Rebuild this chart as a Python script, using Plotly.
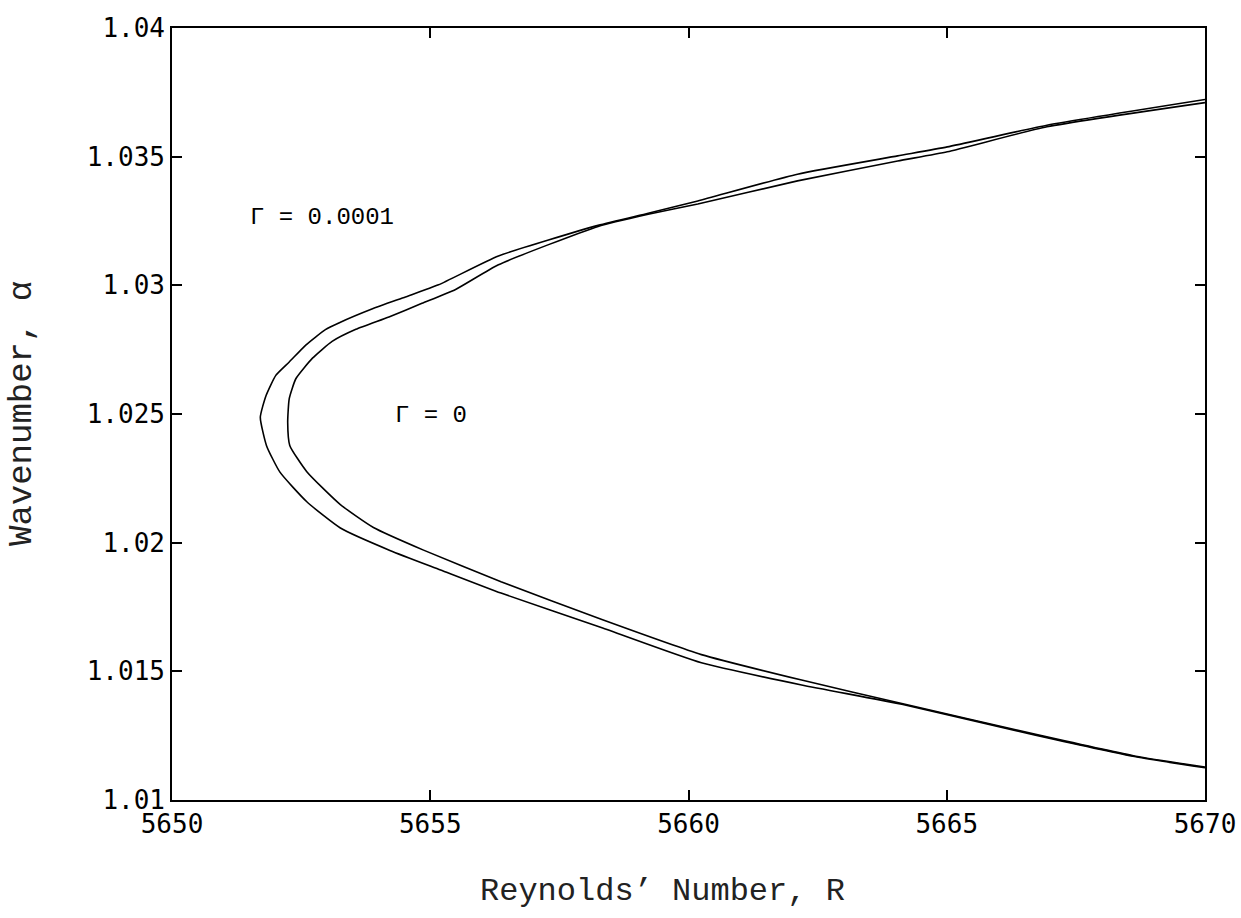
import plotly.graph_objects as go

# Gamma = 0.0001 (outer curve), ordered upper branch -> nose -> lower branch
R_g1 = [5670, 5666.94, 5665.01, 5664.05, 5662.11, 5660.18, 5659.22, 5658.25, 5656.32, 5655.16,
        5654.52, 5653.87, 5653.23, 5652.97, 5652.59, 5652.27, 5652.01, 5651.82, 5651.71,
        5651.83, 5652.09, 5652.61, 5653.26, 5654.23, 5655.20, 5656.37, 5658.31, 5660.25,
        5662.19, 5664.13, 5666.72, 5668.66, 5670]
a_g1 = [1.03722, 1.03622, 1.03538, 1.03503, 1.03432, 1.03328, 1.0328, 1.03233, 1.03114, 1.03002,
        1.02955, 1.02908, 1.02854, 1.02828, 1.02768, 1.02702, 1.0265, 1.02571, 1.02487,
        1.02377, 1.02274, 1.02159, 1.02057, 1.01969, 1.01894, 1.01804, 1.0167, 1.01533,
        1.01447, 1.01372, 1.01252, 1.01168, 1.01125]

# Gamma = 0 (inner curve)
R_g0 = [5670, 5666.94, 5665.01, 5664.05, 5662.11, 5660.18, 5659.22, 5658.25, 5656.32, 5655.49,
        5654.84, 5654.2, 5653.56, 5653.1, 5652.72, 5652.4, 5652.27, 5652.24, 5652.28,
        5652.61, 5653.26, 5653.9, 5654.87, 5656.37, 5658.31, 5660.25, 5662.19, 5664.13,
        5666.72, 5668.66, 5670]
a_g0 = [1.0371, 1.03616, 1.03519, 1.03483, 1.03406, 1.03316, 1.03276, 1.03229, 1.0308, 1.02984,
        1.0293, 1.02877, 1.02829, 1.02782, 1.02717, 1.02638, 1.0256, 1.02467, 1.02378,
        1.02276, 1.02148, 1.02059, 1.01971, 1.01848, 1.01702, 1.01565, 1.01466, 1.01375,
        1.01255, 1.0117, 1.01128]

x_ticks = [5650, 5655, 5660, 5665, 5670]
x_tick_text = ["5650", "5655", "5660", "5665", "5670"]
y_ticks = [1.01, 1.015, 1.02, 1.025, 1.03, 1.035, 1.04]
y_tick_text = ["1.01", "1.015", "1.02", "1.025", "1.03", "1.035", "1.04"]

labels = ["\u0393 = 0.0001", "\u0393 = 0"]
label_x = [5651.48, 5654.27]
label_y = [1.03262, 1.02493]

x_title = "Reynolds\u2019 Number, R"
y_title = "Wavenumber, \u03b1"

fig = go.Figure()
fig.add_trace(go.Scatter(x=R_g1, y=a_g1, mode="lines", name="\u0393 = 0.0001",
                         line=dict(color="black", width=1.6, shape="spline", smoothing=0.5),
                         showlegend=False))
fig.add_trace(go.Scatter(x=R_g0, y=a_g0, mode="lines", name="\u0393 = 0",
                         line=dict(color="black", width=1.6, shape="spline", smoothing=0.5),
                         showlegend=False))

for t, lx, ly in zip(labels, label_x, label_y):
    fig.add_annotation(x=lx, y=ly, text=t, showarrow=False, xanchor="left", yanchor="middle",
                       font=dict(family="Liberation Mono", size=24, color="black"))

titlefont = dict(family="Liberation Mono", size=32, color="#222")
fig.add_annotation(xref="paper", yref="paper", x=0.475, y=-0.119, text=x_title,
                   showarrow=False, xanchor="center", yanchor="middle", font=titlefont)
fig.add_annotation(xref="paper", yref="paper", x=-0.1452, y=0.5, text=y_title, textangle=-90,
                   showarrow=False, xanchor="center", yanchor="middle",
                   font=dict(family="Liberation Mono", size=34, color="#222"))

tickfont = dict(family="DejaVu Sans Mono", size=26, color="black")

fig.update_xaxes(range=[5650, 5670], tickmode="array", tickvals=x_ticks, ticktext=x_tick_text,
                 ticks="inside", ticklen=10, tickwidth=1.5, tickcolor="black",
                 showline=True, linecolor="black", linewidth=1.6, mirror="ticks",
                 showgrid=False, zeroline=False, tickfont=tickfont, automargin=False)
fig.update_yaxes(range=[1.01, 1.04], tickmode="array", tickvals=y_ticks, ticktext=y_tick_text,
                 ticks="inside", ticklen=10, tickwidth=1.5, tickcolor="black",
                 showline=True, linecolor="black", linewidth=1.6, mirror="ticks",
                 showgrid=False, zeroline=False, tickfont=tickfont, automargin=False)

fig.update_layout(width=1241, height=918, margin=dict(l=172, r=36, t=28, b=118),
                  paper_bgcolor="white", plot_bgcolor="white")

fig.write_html("out.html")
